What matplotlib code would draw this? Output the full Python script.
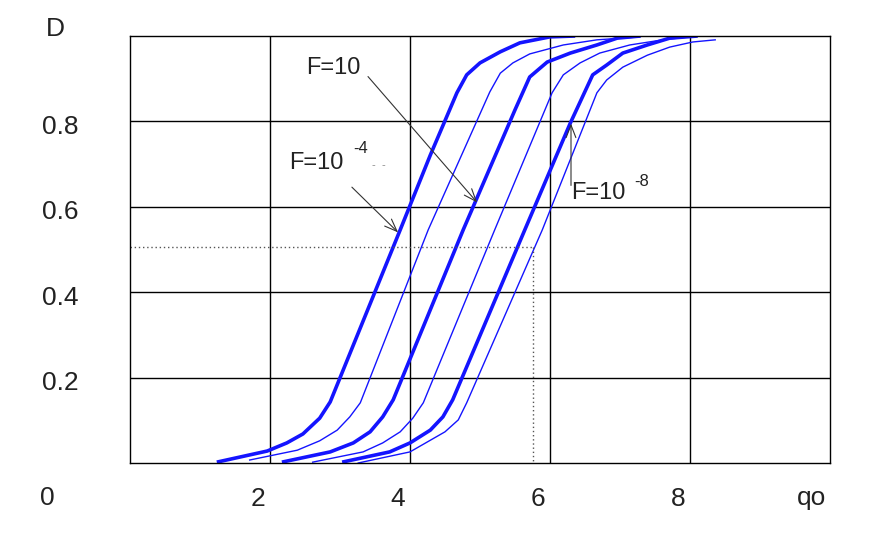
import numpy as np
import matplotlib
matplotlib.use("Agg")
import matplotlib.pyplot as plt
from matplotlib.transforms import ScaledTranslation

plt.rcParams['font.family'] = ['Liberation Sans', 'DejaVu Sans']

# curves D(qo)
thick1_x = [1.24, 1.96, 2.24, 2.47, 2.71, 2.86, 3.86, 4.29, 4.67, 4.81, 5.0, 5.29, 5.57, 6.0, 6.36]
thick1_y = [0.002, 0.028, 0.047, 0.068, 0.105, 0.143, 0.546, 0.721, 0.867, 0.909, 0.937, 0.963, 0.984, 0.998, 1.0]
thin1_x = [1.71, 2.39, 2.71, 2.96, 3.14, 3.29, 4.26, 5.14, 5.29, 5.47, 5.71, 6.19, 6.67, 7.29]
thin1_y = [0.007, 0.030, 0.052, 0.077, 0.108, 0.141, 0.546, 0.869, 0.913, 0.937, 0.958, 0.979, 0.991, 0.998]
thick2_x = [2.17, 2.86, 3.19, 3.43, 3.61, 3.76, 4.76, 5.5, 5.71, 5.96, 6.29, 6.67, 6.96, 7.29]
thick2_y = [0.002, 0.026, 0.047, 0.073, 0.108, 0.148, 0.546, 0.827, 0.904, 0.939, 0.960, 0.979, 0.995, 1.0]
thin2_x = [2.61, 3.33, 3.61, 3.86, 4.04, 4.19, 5.21, 6.03, 6.19, 6.43, 6.71, 7.14, 7.61, 8.0]
thin2_y = [0.002, 0.026, 0.047, 0.073, 0.105, 0.141, 0.546, 0.867, 0.909, 0.937, 0.960, 0.979, 0.991, 0.998]
thick3_x = [3.03, 3.71, 4.0, 4.29, 4.47, 4.61, 5.64, 6.29, 6.61, 6.81, 7.04, 7.39, 7.71, 8.11]
thick3_y = [0.002, 0.026, 0.047, 0.077, 0.108, 0.148, 0.546, 0.796, 0.909, 0.932, 0.960, 0.979, 0.995, 1.0]
thin3_x = [3.26, 4.0, 4.5, 4.69, 4.81, 5.89, 6.67, 6.81, 7.04, 7.39, 7.71, 8.04, 8.36]
thin3_y = [0.0, 0.026, 0.073, 0.101, 0.141, 0.546, 0.867, 0.897, 0.927, 0.955, 0.974, 0.986, 0.991]

# reading guide (dotted)
guide_x = 5.76
guide_y = 0.506

xticks = [2, 4, 6, 8]
yticks = [0.2, 0.4, 0.6, 0.8]

fig = plt.figure(figsize=(8.92, 5.6), dpi=100)
ax = fig.add_axes([130/892, 97/560, 700/892, 427/560])
ax.set_xlim(0, 10)
ax.set_ylim(0, 1)

blue = '#1414ff'
ax.plot(thick1_x, thick1_y, color=blue, lw=2.6, solid_capstyle='butt')
ax.plot(thin1_x, thin1_y, color=blue, lw=1.0)
ax.plot(thick2_x, thick2_y, color=blue, lw=2.6, solid_capstyle='butt')
ax.plot(thin2_x, thin2_y, color=blue, lw=1.0)
ax.plot(thick3_x, thick3_y, color=blue, lw=2.6, solid_capstyle='butt')
ax.plot(thin3_x, thin3_y, color=blue, lw=1.0)

ax.plot([0, guide_x], [guide_y, guide_y], color='#555555', lw=1.0, ls=(0, (1, 2)))
ax.plot([guide_x, guide_x], [guide_y, 0], color='#555555', lw=1.0, ls=(0, (1, 2)))

ax.set_xticks(xticks)
ax.set_yticks(yticks)
ax.grid(True, color='black', lw=1.0)
ax.tick_params(length=0, labelsize=19, labelcolor='#222222')
ax.tick_params(axis='x', pad=17)
ax.tick_params(axis='y', pad=50)
for lab in ax.get_yticklabels():
    lab.set_horizontalalignment('center')
    lab.set_transform(lab.get_transform() + ScaledTranslation(0.0, -0.03, fig.dpi_scale_trans))
for lab in ax.get_xticklabels():
    lab.set_transform(lab.get_transform() + ScaledTranslation(-0.12, 0, fig.dpi_scale_trans))
for s in ax.spines.values():
    s.set_linewidth(1.0)

fig.text(47/892, 1 - 498/560, '0', fontsize=19, ha='center', va='center', color='#222222')
fig.text(811/892, 1 - 498/560, 'qo', fontsize=19, ha='center', va='center', color='#222222')
fig.text(55/892, 1 - 29/560, 'D', fontsize=19, ha='center', va='center', color='#222222')

arrow = dict(arrowstyle='->,head_length=0.9,head_width=0.35', color='#333333', lw=0.8, shrinkA=0, shrinkB=0)
ax.annotate('', xy=(4.96, 0.61), xytext=(3.4, 0.905), arrowprops=arrow)
ax.annotate('', xy=(3.83, 0.54), xytext=(3.17, 0.646), arrowprops=arrow)
ax.annotate('', xy=(6.3, 0.795), xytext=(6.3, 0.65), arrowprops=arrow)

ax.text(2.52, 0.925, 'F=10', fontsize=17, va='center', color='#222222')
ax.text(2.28, 0.702, 'F=10', fontsize=17, va='center', color='#222222')
ax.text(3.19, 0.737, '-4', fontsize=12, va='center', color='#222222')
ax.text(3.45, 0.698, '-  -', fontsize=8, va='center', color='#888888')
ax.text(6.3, 0.632, 'F=10', fontsize=17, va='center', color='#222222')
ax.text(7.21, 0.66, '-8', fontsize=12, va='center', color='#222222')

fig.savefig('out.png', dpi=100)
